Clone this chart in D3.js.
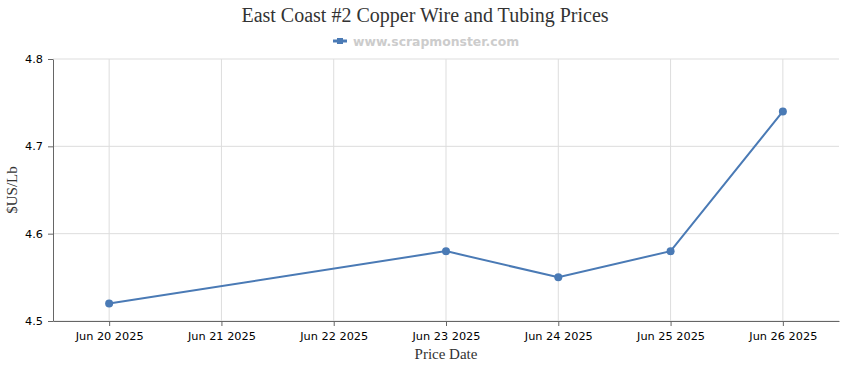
<!DOCTYPE html>
<html>
<head>
<meta charset="utf-8">
<script src="https://cdn.jsdelivr.net/npm/d3@7"></script>
<style>
  body { margin: 0; background: #fff; }
  .tick text { font-family: Tahoma, "DejaVu Sans", Verdana, sans-serif; font-size: 11.3px; fill: #000; }
</style>
</head>
<body>
<div id="chart"></div>
<script>
// chart data
var dates = ['Jun 20 2025', 'Jun 21 2025', 'Jun 22 2025', 'Jun 23 2025', 'Jun 24 2025', 'Jun 25 2025', 'Jun 26 2025'];
var prices = [4.52, null, null, 4.58, 4.55, 4.58, 4.74];
var yTicks = [4.5, 4.6, 4.7, 4.8];

var margin = {top: 59, right: 11, bottom: 49, left: 53},
    width = 850 - margin.left - margin.right,
    height = 370 - margin.top - margin.bottom;

var svg = d3.select("#chart").append("svg")
    .attr("width", 850)
    .attr("height", 370);

var g = svg.append("g")
    .attr("transform", "translate(" + margin.left + "," + margin.top + ")");

var x = d3.scalePoint()
    .domain(dates)
    .range([0, width])
    .padding(0.5);

var y = d3.scaleLinear()
    .domain([4.5, 4.8])
    .range([height, 0]);

// grid
g.append("g").selectAll("line.vgrid")
    .data(dates).enter().append("line")
    .attr("x1", d => x(d)).attr("x2", d => x(d))
    .attr("y1", 0).attr("y2", height)
    .attr("stroke", "#ddd");

g.append("g").selectAll("line.hgrid")
    .data(yTicks).enter().append("line")
    .attr("x1", 0).attr("x2", width)
    .attr("y1", d => y(d)).attr("y2", d => y(d))
    .attr("stroke", "#ddd");

// axes
var xAxis = g.append("g")
    .attr("transform", "translate(0," + height + ")")
    .call(d3.axisBottom(x).tickSize(5).tickPadding(6).tickSizeOuter(0));
xAxis.select(".domain").attr("stroke", "#666");
xAxis.selectAll(".tick line").attr("stroke", "#666");

var yAxis = g.append("g")
    .call(d3.axisLeft(y).tickValues(yTicks).tickFormat(d3.format(".1f")).tickSize(5).tickPadding(5).tickSizeOuter(0));
yAxis.select(".domain").attr("stroke", "#666");
yAxis.selectAll(".tick line").attr("stroke", "#666");

// line
var points = dates.map((d, i) => ({date: d, value: prices[i]})).filter(p => p.value != null);

var line = d3.line()
    .x(d => x(d.date))
    .y(d => y(d.value));

g.append("path")
    .datum(points)
    .attr("fill", "none")
    .attr("stroke", "#4a7ab5")
    .attr("stroke-width", 2)
    .attr("d", line);

g.selectAll("circle.pt")
    .data(points).enter().append("circle")
    .attr("cx", d => x(d.date))
    .attr("cy", d => y(d.value))
    .attr("r", 4)
    .attr("fill", "#4a7ab5");

// title
svg.append("text")
    .attr("x", 425)
    .attr("y", 22)
    .attr("text-anchor", "middle")
    .style("font-family", "'Liberation Serif', 'Times New Roman', serif")
    .style("font-size", "20px")
    .style("fill", "#333")
    .text("East Coast #2 Copper Wire and Tubing Prices");

// legend
var legend = svg.append("g").attr("transform", "translate(333,41)");
legend.append("line")
    .attr("x1", 0).attr("x2", 14).attr("y1", 0).attr("y2", 0)
    .attr("stroke", "#4a7ab5").attr("stroke-width", 3);
legend.append("rect")
    .attr("x", 4).attr("y", -3).attr("width", 6).attr("height", 6)
    .attr("fill", "#4a7ab5");
legend.append("text")
    .attr("x", 20).attr("y", 4.5)
    .style("font-family", "'DejaVu Sans', Verdana, sans-serif")
    .style("font-size", "12.4px")
    .style("font-weight", "bold")
    .style("fill", "#ccc")
    .text("www.scrapmonster.com");

// axis titles
svg.append("text")
    .attr("x", margin.left + x('Jun 23 2025'))
    .attr("y", 359)
    .attr("text-anchor", "middle")
    .style("font-family", "'Liberation Serif', 'Times New Roman', serif")
    .style("font-size", "15px")
    .style("fill", "#333")
    .text("Price Date");

svg.append("text")
    .attr("transform", "translate(17," + (margin.top + height / 2) + ") rotate(-90)")
    .attr("text-anchor", "middle")
    .style("font-family", "'Liberation Serif', 'Times New Roman', serif")
    .style("font-size", "15px")
    .style("fill", "#333")
    .text("$US/Lb");
</script>
</body>
</html>
